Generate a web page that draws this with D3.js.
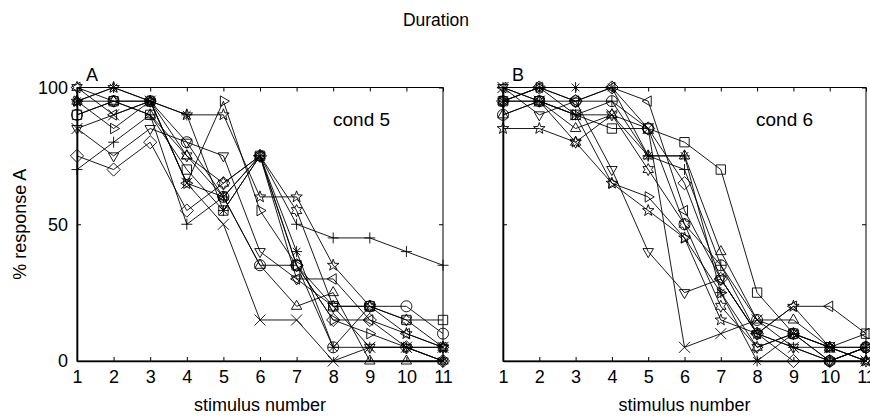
<!DOCTYPE html>
<html>
<head>
<meta charset="utf-8">
<title>Duration</title>
<script src="https://cdn.jsdelivr.net/npm/d3@7"></script>
<style>
body { margin: 0; background: #fff; }
svg text { font-family: "Liberation Sans", Arial, sans-serif; fill: #000; }
</style>
</head>
<body>
<script>
// stimulus numbers on x
const stimuli = [1, 2, 3, 4, 5, 6, 7, 8, 9, 10, 11];
const yTicks = [0, 50, 100];
const markers = ["plus", "circle", "asterisk", "cross", "square", "diamond",
                 "triUp", "triDown", "triRight", "triLeft", "pentagram", "hexagram"];

// cond 5 (panel A), one row per listener
const cond5 = [
  [70, 80, 90, 50, 60, 75, 50, 45, 45, 40, 35],
  [90, 95, 95, 80, 60, 35, 35, 5, 20, 20, 10],
  [95, 100, 95, 90, 55, 75, 40, 5, 5, 5, 0],
  [85, 90, 95, 65, 50, 15, 15, 0, 5, 5, 5],
  [90, 95, 90, 70, 55, 75, 35, 20, 20, 15, 15],
  [75, 70, 80, 55, 65, 75, 35, 15, 15, 5, 0],
  [95, 95, 90, 75, 60, 35, 20, 25, 0, 0, 0],
  [85, 75, 85, 80, 75, 40, 30, 20, 5, 5, 0],
  [95, 85, 95, 65, 95, 55, 35, 15, 10, 5, 5],
  [100, 90, 95, 65, 60, 75, 30, 30, 15, 10, 5],
  [95, 100, 95, 90, 90, 60, 60, 35, 20, 10, 5],
  [100, 95, 95, 75, 65, 75, 55, 20, 20, 15, 5]
];

// cond 6 (panel B)
const cond6 = [
  [100, 95, 90, 95, 75, 70, 35, 10, 5, 0, 5],
  [90, 95, 95, 95, 85, 50, 35, 15, 10, 0, 5],
  [95, 100, 100, 100, 75, 75, 25, 0, 10, 5, 5],
  [100, 95, 90, 90, 85, 5, 10, 15, 5, 5, 0],
  [95, 95, 90, 85, 85, 80, 70, 25, 10, 5, 10],
  [95, 100, 95, 100, 85, 65, 30, 10, 0, 0, 5],
  [90, 95, 85, 90, 75, 75, 40, 15, 15, 5, 0],
  [100, 90, 95, 70, 40, 25, 30, 10, 5, 0, 0],
  [95, 100, 90, 65, 60, 45, 25, 5, 10, 5, 5],
  [100, 100, 95, 100, 95, 55, 30, 10, 20, 20, 10],
  [85, 85, 80, 65, 55, 45, 15, 10, 20, 5, 0],
  [95, 95, 80, 90, 70, 50, 20, 5, 10, 0, 5]
];

const panels = [
  { letter: "A", label: "cond 5", data: cond5, left: 77, right: 443 },
  { letter: "B", label: "cond 6", data: cond6, left: 503, right: 866 }
];

const width = 870, height = 416;
const plotTop = 87.5, plotBottom = 361;
const fontSize = 18;

const svg = d3.select("body").append("svg")
    .attr("width", width)
    .attr("height", height);

// marker outlines, r = half size
function markerPath(type, r) {
  const p = d3.path();
  const poly = (pts) => {
    pts.forEach((q, i) => i ? p.lineTo(q[0], q[1]) : p.moveTo(q[0], q[1]));
    p.closePath();
  };
  const ang = (n, rad, off) => d3.range(n).map(i => {
    const a = off + i * 2 * Math.PI / n;
    return [rad * Math.cos(a), rad * Math.sin(a)];
  });
  switch (type) {
    case "plus":
      p.moveTo(-r, 0); p.lineTo(r, 0); p.moveTo(0, -r); p.lineTo(0, r); break;
    case "cross":
      p.moveTo(-r, -r); p.lineTo(r, r); p.moveTo(-r, r); p.lineTo(r, -r); break;
    case "asterisk":
      p.moveTo(-r, 0); p.lineTo(r, 0); p.moveTo(0, -r); p.lineTo(0, r);
      p.moveTo(-r * .7, -r * .7); p.lineTo(r * .7, r * .7);
      p.moveTo(-r * .7, r * .7); p.lineTo(r * .7, -r * .7); break;
    case "circle":
      p.moveTo(r, 0); p.arc(0, 0, r, 0, 2 * Math.PI); break;
    case "square":
      p.rect(-r * .85, -r * .85, r * 1.7, r * 1.7); break;
    case "diamond":
      poly([[0, -r * 1.2], [r * 1.2, 0], [0, r * 1.2], [-r * 1.2, 0]]); break;
    case "triUp":
      poly(ang(3, r * 1.1, -Math.PI / 2)); break;
    case "triDown":
      poly(ang(3, r * 1.1, Math.PI / 2)); break;
    case "triRight":
      poly(ang(3, r * 1.1, 0)); break;
    case "triLeft":
      poly(ang(3, r * 1.1, Math.PI)); break;
    case "pentagram": {
      const pts = [];
      for (let i = 0; i < 10; i++) {
        const a = -Math.PI / 2 + i * Math.PI / 5;
        const rad = i % 2 ? r * 0.45 : r * 1.1;
        pts.push([rad * Math.cos(a), rad * Math.sin(a)]);
      }
      poly(pts); break;
    }
    case "hexagram": {
      const pts = [];
      for (let i = 0; i < 12; i++) {
        const a = -Math.PI / 2 + i * Math.PI / 6;
        const rad = i % 2 ? r * 0.6 : r * 1.1;
        pts.push([rad * Math.cos(a), rad * Math.sin(a)]);
      }
      poly(pts); break;
    }
  }
  return p.toString();
}

panels.forEach(pn => {
  const x = d3.scaleLinear().domain([1, 11]).range([pn.left, pn.right]);
  const y = d3.scaleLinear().domain([0, 100]).range([plotBottom, plotTop]);
  const g = svg.append("g");

  // box with inward ticks on all sides
  g.append("rect")
      .attr("x", pn.left).attr("y", plotTop)
      .attr("width", pn.right - pn.left).attr("height", plotBottom - plotTop)
      .attr("fill", "none").attr("stroke", "#000").attr("stroke-width", 1);

  g.append("g").attr("transform", `translate(0,${plotBottom})`)
      .call(d3.axisBottom(x).tickValues(stimuli).tickSizeInner(-4).tickSizeOuter(0).tickPadding(9))
      .call(a => a.select(".domain").attr("stroke-width", 1.6))
      .call(a => a.selectAll("text").attr("font-size", fontSize).attr("dy", "0.71em")
            .attr("font-family", "Liberation Sans, Arial, sans-serif"));
  g.append("g").attr("transform", `translate(0,${plotTop})`)
      .call(d3.axisTop(x).tickValues(stimuli).tickSizeInner(-4).tickSizeOuter(0).tickFormat(""))
      .call(a => a.select(".domain").remove());
  g.append("g").attr("transform", `translate(${pn.left},0)`)
      .call(d3.axisLeft(y).tickValues(yTicks).tickSizeInner(-4).tickSizeOuter(0)
            .tickPadding(pn.letter === "A" ? 9 : 0).tickFormat(pn.letter === "A" ? d3.format("d") : ""))
      .call(a => a.select(".domain").attr("stroke-width", 1.6))
      .call(a => a.selectAll("text").attr("font-size", fontSize)
            .attr("font-family", "Liberation Sans, Arial, sans-serif"));
  g.append("g").attr("transform", `translate(${pn.right},0)`)
      .call(d3.axisRight(y).tickValues(yTicks).tickSizeInner(-4).tickSizeOuter(0).tickFormat(""))
      .call(a => a.select(".domain").remove());

  const line = d3.line().x((d, i) => x(stimuli[i])).y(d => y(d));

  const series = g.append("g").selectAll("g")
    .data(pn.data)
    .join("g");

  series.append("path")
      .attr("d", d => line(d))
      .attr("fill", "none")
      .attr("stroke", "#000")
      .attr("stroke-width", 0.9);

  series.each(function(d, si) {
    d3.select(this).selectAll("path.mk")
      .data(d)
      .join("path")
        .attr("class", "mk")
        .attr("transform", (v, i) => `translate(${x(stimuli[i])},${y(v)})`)
        .attr("d", markerPath(markers[si], 5.5))
        .attr("fill", "none")
        .attr("stroke", "#000")
        .attr("stroke-width", 0.9);
  });

  svg.append("text")
      .attr("x", pn.left + 9).attr("y", plotTop - 7)
      .attr("font-size", fontSize)
      .text(pn.letter);

  svg.append("text")
      .attr("x", pn.right - 110).attr("y", plotTop + 38)
      .attr("font-size", 19)
      .text(pn.label);

  svg.append("text")
      .attr("x", (pn.left + pn.right) / 2).attr("y", 411)
      .attr("text-anchor", "middle")
      .attr("font-size", fontSize)
      .text("stimulus number");
});

svg.append("text")
    .attr("x", 436).attr("y", 26)
    .attr("text-anchor", "middle")
    .attr("font-size", 17.5)
    .text("Duration");

svg.append("text")
    .attr("transform", `translate(26,${(plotTop + plotBottom) / 2}) rotate(-90)`)
    .attr("text-anchor", "middle")
    .attr("font-size", fontSize)
    .text("% response A");
</script>
</body>
</html>
